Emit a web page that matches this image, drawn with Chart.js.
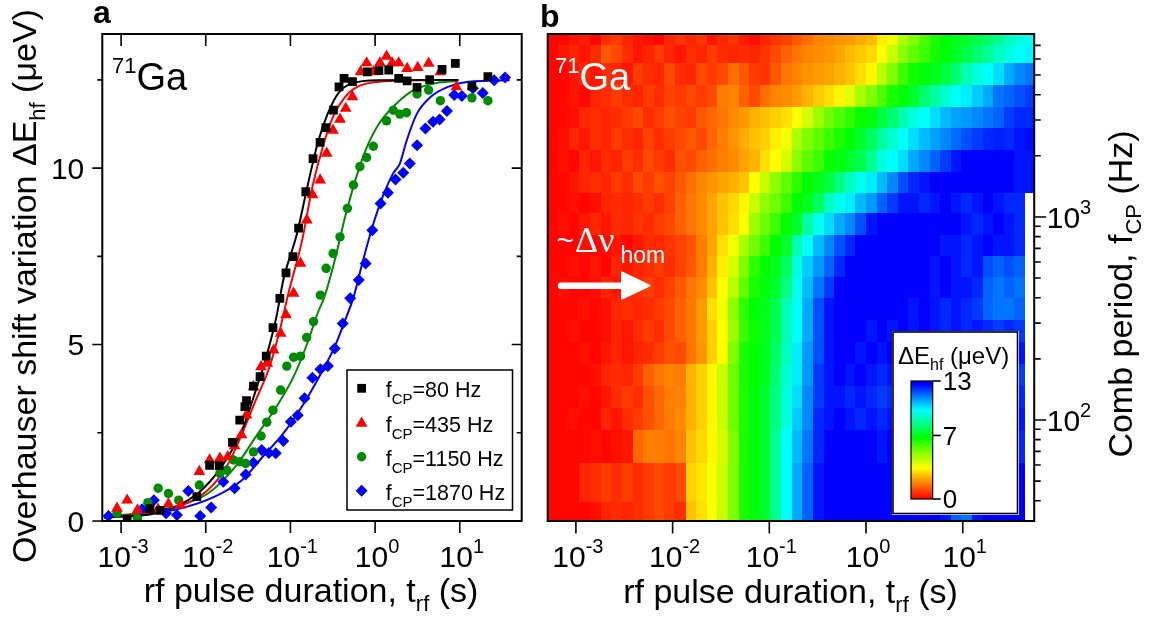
<!DOCTYPE html>
<html lang="en">
<head>
<meta charset="utf-8">
<title>71Ga Overhauser shift vs rf pulse duration</title>
<script src="https://cdn.jsdelivr.net/npm/chart.js@4.4.1/dist/chart.umd.min.js"></script>
<style>
  html, body { margin: 0; padding: 0; background: #fff; }
  #page { position: relative; width: 1151px; height: 622px; overflow: hidden; }
  #page canvas { position: absolute; top: 0; }
</style>
</head>
<body>
<div id="page">
  <canvas id="panelA" width="540" height="622" style="left:0"></canvas>
  <canvas id="panelB" width="611" height="622" style="left:540px"></canvas>
  <canvas id="shiftBar" width="127" height="184" style="left:892px;top:331px"></canvas>
</div>
<script>
// ---------- panel a: measured shift (µeV) vs rf pulse duration (s) ----------
const t80 = [0.00118, 0.0022, 0.0029, 0.00785, 0.0111, 0.0144, 0.0207, 0.0252, 0.029, 0.0303, 0.0366, 0.0438, 0.0518, 0.0622, 0.075, 0.0887, 0.107, 0.125, 0.152, 0.185, 0.224, 0.262, 0.322, 0.375, 0.43, 0.54, 0.81, 1.11, 1.45, 1.9, 2.39, 3.13, 4.41, 6.18, 8.86, 13.9, 21.5];
const dE80 = [0.05, 0.35, 0.3, 0.69, 1.58, 1.57, 2.23, 2.86, 3.24, 3.41, 3.82, 4.09, 4.67, 5.48, 6.31, 7.03, 7.49, 8.3, 9.33, 10.27, 10.73, 11.15, 11.64, 12.3, 12.54, 12.45, 12.73, 12.76, 12.78, 12.54, 12.47, 12.29, 12.51, 12.8, 12.97, 12.32, 12.59];

const t435 = [0.000895, 0.00118, 0.00156, 0.00274, 0.00362, 0.00502, 0.0084, 0.0111, 0.0147, 0.0182, 0.0219, 0.0264, 0.0303, 0.0366, 0.045, 0.0532, 0.0634, 0.0766, 0.0887, 0.109, 0.1315, 0.156, 0.1825, 0.2244, 0.2685, 0.318, 0.385, 0.45, 0.54, 0.675, 0.794, 0.953, 1.14, 1.365, 1.59, 1.9, 2.39, 3.19, 4.29, 5.9, 9.1];
const dE435 = [0.36, 0.59, 0.31, 0.33, 0.48, 0.45, 1.4, 1.73, 1.78, 1.82, 2.13, 2.44, 3.0, 3.8, 4.37, 4.47, 4.84, 5.32, 5.84, 6.45, 7.3, 8.53, 9.24, 9.66, 10.42, 11.07, 11.38, 11.69, 12.02, 12.73, 12.98, 12.73, 12.98, 13.17, 12.98, 12.98, 12.82, 12.85, 12.97, 12.73, 12.3];

const t1150 = [0.000895, 0.00156, 0.00207, 0.00274, 0.00362, 0.00479, 0.0084, 0.0147, 0.0177, 0.0213, 0.0252, 0.0296, 0.0366, 0.045, 0.0526, 0.0622, 0.0766, 0.0906, 0.109, 0.1315, 0.1556, 0.1875, 0.226, 0.264, 0.319, 0.385, 0.471, 0.555, 0.662, 0.794, 0.953, 1.365, 1.637, 1.96, 2.35, 3.13, 4.29, 5.9, 13.9, 21.5];
const dE1150 = [0.22, 0.08, 0.52, 0.93, 0.78, 0.59, 1.02, 1.35, 1.44, 1.73, 1.68, 1.63, 1.96, 2.41, 2.8, 3.14, 3.71, 4.39, 4.64, 4.67, 5.2, 5.65, 6.4, 7.16, 7.58, 8.05, 8.86, 9.52, 10.04, 10.3, 10.62, 11.34, 11.64, 11.53, 11.57, 12.1, 12.21, 11.91, 11.99, 11.91];

const t1870 = [0.00071, 0.00177, 0.00244, 0.0034, 0.00457, 0.00622, 0.0086, 0.0116, 0.0161, 0.0219, 0.0296, 0.0366, 0.0458, 0.0557, 0.0671, 0.0824, 0.101, 0.122, 0.147, 0.182, 0.226, 0.277, 0.334, 0.414, 0.508, 0.641, 0.773, 0.927, 1.16, 1.416, 1.742, 2.15, 2.57, 3.13, 3.93, 4.84, 5.78, 7.06, 8.61, 10.6, 14.3, 18.7, 25.5, 34.3];
const dE1870 = [0.14, 0.33, 0.59, 0.22, 0.17, 0.85, 0.14, 0.38, 1.11, 0.93, 1.32, 1.65, 2.01, 1.93, 1.92, 2.27, 2.81, 3.0, 3.48, 4.06, 4.3, 4.39, 4.89, 5.6, 6.31, 6.83, 7.3, 8.24, 9.0, 9.3, 9.68, 9.87, 10.13, 10.65, 11.12, 11.31, 11.38, 11.62, 12.07, 12.04, 12.26, 12.13, 12.49, 12.57];

// fitted curves
const fitT80 = [0.00063, 0.00262, 0.008, 0.0154, 0.0269, 0.0391, 0.0518, 0.0684, 0.0824, 0.1197, 0.1585, 0.2094, 0.2767, 0.367, 0.532, 1.12, 9.66];
const fitE80 = [0.1, 0.22, 0.78, 1.54, 2.58, 3.71, 4.65, 5.79, 6.83, 8.15, 9.47, 10.7, 11.55, 12.12, 12.4, 12.49, 12.5];
const fitT435 = [0.00063, 0.00346, 0.0106, 0.0185, 0.0269, 0.0391, 0.0568, 0.075, 0.0946, 0.1377, 0.182, 0.241, 0.318, 0.443, 0.641, 1.12, 8.85];
const fitE435 = [0.1, 0.31, 0.88, 1.63, 2.48, 3.43, 4.37, 5.41, 6.45, 7.96, 9.47, 10.6, 11.45, 12.02, 12.32, 12.45, 12.5];
const fitT1150 = [0.00063, 0.00417, 0.0106, 0.0224, 0.0391, 0.0684, 0.109, 0.158, 0.209, 0.252, 0.334, 0.443, 0.585, 0.773, 1.12, 1.79, 2.85, 5.0, 9.6];
const fitE1150 = [0.1, 0.4, 0.78, 1.54, 2.39, 3.24, 4.09, 5.03, 5.88, 6.35, 7.39, 8.62, 9.66, 10.51, 11.27, 11.83, 12.21, 12.4, 12.47];
const fitT1870 = [0.00063, 0.00417, 0.01276, 0.0269, 0.0471, 0.0824, 0.144, 0.2296, 0.334, 0.443, 0.558, 0.705, 0.931, 1.23, 1.633, 1.963, 2.366, 3.133, 4.55, 7.26, 12.7, 38.8];
const fitE1870 = [0.1, 0.31, 0.69, 1.16, 1.82, 2.48, 3.33, 4.18, 4.94, 5.69, 6.35, 7.3, 8.34, 9.19, 9.85, 10.13, 10.79, 11.55, 12.02, 12.3, 12.45, 12.49];

const combLabels = ['80', '435', '1150', '1870'];
const shiftTicks = [0, 2.5, 5, 7.5, 10, 12.5];

// ---------- panel b: shift map over pulse duration and comb frequency ----------
// cell edges: pulse duration (s), left to right; comb frequency (Hz), top to bottom
const pulseEdges = [0.000511, 0.000657, 0.000846, 0.001089, 0.001402, 0.001805, 0.002324, 0.002992, 0.003851, 0.004958, 0.006383, 0.008217, 0.01058, 0.01362, 0.01753, 0.02257, 0.02906, 0.0374, 0.04816, 0.06199, 0.0798, 0.1027, 0.1323, 0.1703, 0.2192, 0.2822, 0.3633, 0.4676, 0.602, 0.775, 0.998, 1.284, 1.654, 2.129, 2.74, 3.528, 4.542, 5.847, 7.527, 9.69, 12.47, 16.06, 20.67, 26.61, 34.26, 44.11, 54.8];
const combEdges = [7960, 6990, 5700, 4440, 3460, 2730, 2130, 1660, 1310, 1043, 813, 641, 505, 398, 310, 242, 189, 147, 115, 89.3, 61.4, 39.5, 31.8];
// µeV per cell, one row per comb band (top row = highest frequency)
const shiftMap = [
  [0.1,0.1,0.3,0.4,0.1,0.6,0.8,0.5,0.3,0.2,0.1,0.5,0.7,0.5,0.7,0.3,0.5,0.7,0.4,0.2,0.5,0.7,0.9,1.2,1.5,1.8,1.9,2.0,2.1,2.3,2.5,3.2,3.6,4.6,5.2,5.8,6.4,6.7,7.0,7.2,7.6,8.0,8.4,9.0,9.4,9.6],
  [0.1,0.3,0.5,0.3,0.6,1.2,1.0,0.6,0.3,0.5,0.8,0.5,0.3,0.6,0.5,0.8,0.6,0.5,0.6,0.5,0.7,1.0,1.3,1.6,1.8,1.9,2.0,2.2,2.5,2.7,2.9,3.4,4.2,5.0,5.6,6.0,6.5,6.8,7.1,7.5,8.0,8.5,9.0,9.4,9.7,9.9],
  [0.1,0.1,0.3,0.5,0.3,0.6,0.5,0.3,0.8,0.6,0.5,1.0,0.6,0.5,1.0,0.8,1.0,1.5,1.2,0.8,0.7,1.2,1.6,1.8,2.0,2.1,2.2,2.4,2.6,3.0,3.3,4.4,5.2,6.0,6.5,6.8,7.0,7.4,8.0,8.8,9.4,9.8,10.2,10.8,11.2,11.4],
  [0.1,0.1,0.3,0.1,0.5,0.6,0.8,0.6,0.5,0.8,0.6,0.9,0.8,1.0,0.8,1.0,1.7,1.8,1.3,1.0,1.5,1.8,1.9,2.1,2.4,2.7,3.0,3.3,3.8,4.6,5.2,5.8,6.4,6.8,7.2,8.0,8.6,9.2,9.7,10.0,10.4,10.8,11.4,11.6,11.8,12.0],
  [0.1,0.1,0.2,0.5,0.6,0.5,0.6,0.8,1.0,0.6,0.8,1.1,0.9,0.8,1.2,1.4,1.6,1.9,2.1,2.4,2.6,2.8,3.0,3.4,4.0,4.8,5.4,5.8,6.2,6.6,6.9,7.4,8.0,8.8,9.4,9.8,10.2,10.6,10.9,11.0,11.2,11.4,11.6,12.0,12.2,12.2],
  [0.1,0.2,0.5,0.3,0.6,0.5,0.8,0.6,0.5,0.9,0.6,0.8,1.0,1.2,1.0,1.4,1.7,2.0,2.3,2.6,2.8,3.2,3.6,4.6,5.2,5.6,6.0,6.4,6.8,7.2,7.8,8.6,9.2,9.8,10.2,10.6,10.9,11.2,11.5,11.8,12.0,12.2,12.3,12.2,12.4,12.5],
  [0.1,0.2,0.1,0.5,0.3,0.6,0.5,0.8,0.6,1.0,0.8,0.6,1.1,1.0,1.3,1.5,1.7,1.9,2.2,2.4,3.0,3.4,4.0,5.0,5.6,6.0,6.6,6.9,7.2,7.6,8.4,9.4,9.8,10.2,10.8,11.2,11.6,12.0,12.4,12.8,12.9,12.8,12.8,12.6,12.4,12.4],
  [0.1,0.1,0.3,0.5,0.6,0.5,0.8,0.6,1.0,0.8,1.1,0.9,1.2,1.5,1.8,2.0,2.2,2.4,2.6,3.4,4.2,5.0,5.6,6.2,6.7,7.0,7.4,8.2,9.0,9.6,10.0,10.6,11.2,11.8,12.2,12.4,12.6,12.8,12.9,12.9,12.9,12.9,12.9,12.6,12.4,12.4],
  [0.1,0.1,0.2,0.1,0.2,0.5,0.6,0.5,0.6,0.8,0.6,0.9,1.3,1.6,1.9,2.2,2.6,2.9,3.3,4.2,5.0,5.4,6.0,6.7,7.0,7.8,9.0,9.6,10.0,10.6,11.0,11.6,12.0,12.4,12.4,12.2,12.4,12.6,12.4,12.2,12.4,12.6,12.4,12.2,12.2,null],
  [0.1,0.2,0.1,0.3,0.5,0.3,0.6,0.5,0.7,0.6,0.8,1.0,1.3,1.6,1.9,2.2,2.6,3.0,3.4,4.8,5.4,6.0,6.7,7.2,8.6,9.6,10.2,10.8,11.2,11.8,12.4,12.8,12.9,12.9,12.9,12.8,12.9,12.8,12.6,12.4,12.2,12.4,12.6,12.4,12.2,null],
  [0.1,0.1,0.1,0.2,0.1,0.2,0.3,0.1,0.3,0.6,0.5,0.7,0.9,1.1,1.7,2.2,3.0,3.6,4.6,5.4,6.0,6.7,7.2,8.8,9.8,10.6,11.2,11.8,12.2,12.6,12.8,12.9,12.8,12.8,12.9,12.8,12.6,12.4,12.4,12.2,12.4,12.6,12.4,12.4,12.2,null],
  [0.1,0.1,0.2,0.1,0.3,0.1,0.5,0.3,0.5,0.6,0.8,0.6,0.9,1.2,1.7,2.4,3.2,4.0,5.2,6.2,6.7,7.0,7.8,9.4,10.4,11.0,11.6,12.2,12.8,12.9,12.9,12.9,12.9,12.9,12.8,12.6,12.4,12.6,12.4,12.2,12.4,11.8,11.6,11.8,11.6,null],
  [0.1,0.2,0.1,0.1,0.2,0.5,0.3,0.5,0.6,0.8,0.6,0.9,1.2,1.6,1.9,2.6,3.4,4.4,5.6,6.4,6.8,7.2,8.2,9.6,10.6,11.4,12.0,12.6,12.9,12.9,12.8,12.9,12.8,12.6,12.8,12.6,12.4,12.6,12.4,12.4,12.2,11.6,11.4,11.6,11.4,null],
  [0.1,0.1,0.1,0.2,0.1,0.2,0.5,0.6,0.5,0.6,0.8,1.0,1.3,1.6,2.1,3.0,3.6,5.0,6.2,6.7,7.0,7.6,8.8,9.8,10.8,11.8,12.4,12.6,12.8,12.9,12.8,12.6,12.8,12.6,12.4,12.6,12.4,12.2,12.4,12.2,12.0,11.6,11.4,11.4,11.6,null],
  [0.1,0.1,0.2,0.1,0.1,0.2,0.5,0.3,0.6,0.8,0.6,1.0,1.3,1.6,2.1,2.8,3.4,4.8,6.0,6.6,7.0,7.6,8.8,9.8,10.8,11.8,12.4,12.8,12.9,12.6,12.4,12.6,12.4,12.6,12.4,12.6,12.4,12.2,12.4,12.2,12.4,12.2,12.0,12.2,12.0,null],
  [0.1,0.1,0.1,0.2,0.1,0.3,0.5,0.3,0.5,0.6,0.8,1.1,1.0,1.6,2.0,2.8,3.4,5.2,6.4,6.7,7.0,7.8,9.0,10.0,11.0,11.8,12.4,12.6,12.6,12.4,12.6,12.4,12.6,12.4,12.2,12.4,12.2,12.4,12.0,12.2,12.4,12.2,12.4,12.2,12.4,null],
  [0.1,0.1,0.1,0.1,0.2,0.5,0.6,0.5,0.8,1.3,1.6,1.8,1.7,2.4,2.8,3.3,4.2,5.4,6.4,6.7,7.0,8.0,9.2,10.0,11.0,12.0,12.4,12.6,12.4,12.6,12.4,12.2,12.4,12.2,12.4,12.2,12.0,12.2,12.4,12.2,12.4,12.2,12.4,12.2,12.0,null],
  [0.1,0.1,0.1,0.2,0.1,0.3,0.6,0.8,0.6,1.1,1.4,1.7,1.8,2.4,2.8,3.3,4.2,5.4,6.4,6.8,7.2,8.2,9.4,10.2,11.2,12.0,12.4,12.4,12.2,12.4,12.2,12.0,12.2,12.4,12.2,12.4,12.2,12.0,12.2,12.4,12.2,12.4,12.2,12.0,12.2,null],
  [0.1,0.1,0.2,0.1,0.1,0.5,0.3,0.6,0.8,1.1,1.4,1.7,1.9,2.4,2.8,3.3,4.2,5.4,6.4,6.8,7.2,8.2,9.4,10.4,11.2,12.2,12.4,12.6,12.4,12.2,12.4,12.2,12.4,12.2,12.4,12.2,12.0,12.2,12.4,12.2,12.0,12.2,12.4,12.2,12.4,null],
  [0.1,0.1,0.1,0.1,0.2,0.1,0.2,0.3,1.4,1.7,1.7,1.6,1.8,2.6,2.9,3.3,4.0,5.2,6.4,6.8,7.2,8.4,9.8,10.6,11.4,12.2,12.6,12.8,12.6,12.8,12.6,12.4,12.6,12.4,12.6,12.4,12.6,12.4,12.2,12.4,12.6,12.4,12.6,12.4,12.2,null],
  [0.1,0.1,0.1,0.5,0.6,0.8,0.6,0.8,0.6,0.8,1.0,0.8,1.0,2.8,3.1,3.4,4.2,5.2,6.4,6.8,7.2,8.4,9.8,10.8,11.6,12.4,12.8,12.8,12.9,12.8,12.6,12.8,12.9,12.8,12.6,12.8,12.6,12.8,12.9,12.8,12.6,12.8,12.6,12.8,12.6,null],
  [0.1,0.1,0.1,0.1,0.2,0.5,0.6,0.5,0.6,0.8,1.0,0.8,0.6,2.6,3.0,3.4,4.2,5.2,6.4,6.8,7.2,8.4,9.8,10.8,11.6,12.4,12.8,12.8,12.9,12.8,12.6,12.8,12.6,12.8,12.6,12.8,12.6,12.4,11.6,11.4,12.4,12.6,12.8,12.6,12.6,null]
];
const barTicks = [0, 7, 13];

// ---------- shared drawing helpers ----------
const SANS = '"Liberation Sans", Arial, Helvetica, sans-serif';
const SERIF = '"Liberation Serif", "Times New Roman", serif';
const font = (size, weight) => (weight ? weight + ' ' : '') + size + 'px ' + SANS;

// rainbow map: red (0) -> yellow -> green -> cyan -> blue (13)
const rainbow = [
  [0, 255, 0, 0], [1.9, 255, 140, 0], [3.4, 255, 255, 0], [5.2, 128, 255, 0],
  [6.7, 0, 255, 0], [8.2, 0, 255, 128], [9.8, 0, 255, 255], [11.3, 0, 128, 255],
  [12.6, 0, 0, 255], [13, 0, 0, 255]
];
function shiftColor(v) {
  v = Math.max(0, Math.min(13, v));
  for (let i = 1; i < rainbow.length; i++) {
    const a = rainbow[i - 1], b = rainbow[i];
    if (v <= b[0]) {
      const k = (v - a[0]) / (b[0] - a[0] || 1);
      return 'rgb(' + [1, 2, 3].map(j => Math.round(a[j] + (b[j] - a[j]) * k)).join(',') + ')';
    }
  }
  return 'rgb(0,0,255)';
}

// text made of runs (sub/superscripts), baseline at y
function drawRuns(ctx, runs, x, y, align) {
  ctx.textAlign = 'left';
  ctx.textBaseline = 'alphabetic';
  let w = 0;
  runs.forEach(r => { ctx.font = r.font; w += ctx.measureText(r.text).width + (r.dx || 0); });
  let cx = align === 'center' ? x - w / 2 : align === 'right' ? x - w : x;
  runs.forEach(r => {
    ctx.font = r.font;
    cx += r.dx || 0;
    ctx.fillText(r.text, cx, y + (r.dy || 0));
    cx += ctx.measureText(r.text).width;
  });
}
const powerRuns = e => [{text: '10', font: font(30)}, {text: String(e), font: font(20), dy: -14}];

function logTickList(min, max) {
  const out = [];
  for (let e = Math.floor(Math.log10(min)); e <= Math.ceil(Math.log10(max)); e++) {
    for (let m = 1; m < 10; m++) {
      const v = m * Math.pow(10, e);
      if (v >= min && v <= max) out.push({value: v, major: m === 1});
    }
  }
  return out;
}
const decade = v => Math.round(Math.log10(v));

function marker(ctx, style, x, y) {
  ctx.fillStyle = style.color;
  if (Chart.helpers && Chart.helpers.drawPoint) {
    Chart.helpers.drawPoint(ctx, {pointStyle: style.pointStyle, radius: style.radius, rotation: 0, borderWidth: 0}, x, y);
  }
}

const baseOptions = {
  responsive: false,
  maintainAspectRatio: false,
  devicePixelRatio: 1,
  animation: false,
  events: [],
  plugins: {legend: {display: false}, tooltip: {enabled: false}}
};

// ---------- panel a ----------
const seriesStyle = [
  {color: '#000000', pointStyle: 'rect', radius: 6.2},
  {color: '#ff0000', pointStyle: 'triangle', radius: 6.8},
  {color: '#008c00', pointStyle: 'circle', radius: 4.7},
  {color: '#0000ff', pointStyle: 'rectRot', radius: 6}
];
const measured = [[t80, dE80], [t435, dE435], [t1150, dE1150], [t1870, dE1870]];
const fitted = [[fitT80, fitE80], [fitT435, fitE435], [fitT1150, fitE1150], [fitT1870, fitE1870]];
const xy = (xs, ys) => xs.map((x, i) => ({x: x, y: ys[i]}));

const pointSets = measured.map(([t, e], i) => ({
  label: 'fCP=' + combLabels[i] + ' Hz',
  data: xy(t, e),
  showLine: false,
  pointStyle: seriesStyle[i].pointStyle,
  pointRadius: seriesStyle[i].radius,
  pointBackgroundColor: seriesStyle[i].color,
  pointBorderWidth: 0
}));
const lineSets = fitted.map(([t, e], i) => ({
  label: 'fit ' + combLabels[i] + ' Hz',
  data: xy(t, e),
  showLine: true,
  pointRadius: 0,
  borderColor: seriesStyle[i].color,
  borderWidth: 2,
  cubicInterpolationMode: 'monotone'
}));

const panelAFrame = {
  id: 'panelAFrame',
  afterDatasetsDraw(chart) {
    const {ctx, chartArea: a, scales: {x, y}} = chart;
    ctx.save();
    ctx.strokeStyle = '#000';
    ctx.lineWidth = 2;
    ctx.strokeRect(a.left, a.top, a.right - a.left, a.bottom - a.top);
    ctx.lineWidth = 1.6;
    ctx.beginPath();
    x.ticks.forEach(t => {
      const px = x.getPixelForValue(t.value), len = t.major ? 12 : 6.5;
      ctx.moveTo(px, a.bottom); ctx.lineTo(px, a.bottom + len);
      ctx.moveTo(px, a.top); ctx.lineTo(px, a.top + len);
    });
    y.ticks.forEach(t => {
      const py = y.getPixelForValue(t.value), len = t.major ? 10 : 5;
      ctx.moveTo(a.left - len, py); ctx.lineTo(a.left, py);
      ctx.moveTo(a.right - len, py); ctx.lineTo(a.right, py);
    });
    ctx.stroke();

    ctx.fillStyle = '#000';
    x.ticks.filter(t => t.major).forEach(t => drawRuns(ctx, powerRuns(decade(t.value)), x.getPixelForValue(t.value) + 2, 567, 'center'));
    y.ticks.filter(t => t.major).forEach(t => drawRuns(ctx, [{text: String(t.value), font: font(30)}], a.left - 18, y.getPixelForValue(t.value) + 10.7, 'right'));

    drawRuns(ctx, [{text: 'rf pulse duration, t', font: font(34)}, {text: 'rf', font: font(22), dy: 9}, {text: ' (s)', font: font(34)}], 311, 602, 'center');
    ctx.save();
    ctx.translate(36, 286);
    ctx.rotate(-Math.PI / 2);
    drawRuns(ctx, [{text: 'Overhauser shift variation \u0394E', font: font(34)}, {text: 'hf', font: font(22), dy: 9}, {text: ' (\u03bceV)', font: font(34)}], 0, 0, 'center');
    ctx.restore();

    drawRuns(ctx, [{text: 'a', font: font(32, 'bold')}], 93, 23, 'left');
    drawRuns(ctx, [{text: '71', font: font(22), dy: -17}, {text: 'Ga', font: font(38)}], 112, 90, 'left');

    // legend box
    ctx.fillStyle = '#fff';
    ctx.fillRect(347, 370, 165.5, 140);
    ctx.lineWidth = 1.5;
    ctx.strokeRect(347, 370, 165.5, 140);
    const rows = [388.3, 423.3, 456.7, 490.7];
    chart.data.datasets.slice(0, 4).forEach((ds, i) => {
      marker(ctx, seriesStyle[i], 361.6, rows[i]);
      ctx.fillStyle = '#000';
      drawRuns(ctx, [{text: 'f', font: font(21.5)}, {text: 'CP', font: font(15), dy: 7}, {text: '=' + combLabels[i] + ' Hz', font: font(21.5)}], 385.7, rows[i] + 9, 'left');
    });
    ctx.restore();
  }
};

new Chart(document.getElementById('panelA'), {
  type: 'scatter',
  data: {datasets: pointSets.concat(lineSets)},
  options: Object.assign({}, baseOptions, {
    layout: {padding: {left: 102.3, top: 34, right: 18.3, bottom: 101}},
    scales: {
      x: {type: 'logarithmic', min: 6.28e-4, max: 53.9, display: false,
          afterBuildTicks: s => { s.ticks = logTickList(s.min, s.max); }},
      y: {type: 'linear', min: 0, max: 13.8, display: false,
          afterBuildTicks: s => { s.ticks = shiftTicks.map(v => ({value: v, major: v % 5 === 0})); }}
    }
  }),
  plugins: [panelAFrame]
});

// ---------- panel b ----------
const heatLayer = {
  id: 'heatLayer',
  beforeDatasetsDraw(chart) {
    const {ctx, scales: {x, y}} = chart;
    ctx.save();
    shiftMap.forEach((row, r) => {
      const y0 = Math.round(y.getPixelForValue(combEdges[r]));
      const y1 = Math.round(y.getPixelForValue(combEdges[r + 1]));
      row.forEach((v, c) => {
        if (v === null) return;
        const x0 = Math.round(x.getPixelForValue(pulseEdges[c]));
        const x1 = Math.round(x.getPixelForValue(pulseEdges[c + 1]));
        ctx.fillStyle = shiftColor(v);
        ctx.fillRect(x0, y0, x1 - x0, y1 - y0);
      });
    });
    ctx.restore();
  },
  afterDraw(chart) {
    const {ctx, chartArea: a, scales: {x, y}} = chart;
    ctx.save();
    ctx.strokeStyle = '#000';
    ctx.lineWidth = 2;
    ctx.strokeRect(a.left, a.top, a.right - a.left, a.bottom - a.top);
    ctx.lineWidth = 1.6;
    ctx.beginPath();
    x.ticks.forEach(t => {
      const px = x.getPixelForValue(t.value), len = t.major ? 12.5 : 7;
      ctx.moveTo(px, a.bottom); ctx.lineTo(px, a.bottom + len);
    });
    y.ticks.forEach(t => {
      const py = y.getPixelForValue(t.value), len = t.major ? 12 : 6.5;
      ctx.moveTo(a.right, py); ctx.lineTo(a.right + len, py);
    });
    ctx.stroke();

    ctx.fillStyle = '#000';
    x.ticks.filter(t => t.major).forEach(t => drawRuns(ctx, powerRuns(decade(t.value)), x.getPixelForValue(t.value) + 2, 567, 'center'));
    y.ticks.filter(t => t.major).forEach(t => drawRuns(ctx, powerRuns(decade(t.value)), a.right + 12.5, y.getPixelForValue(t.value) + 10.7, 'left'));

    drawRuns(ctx, [{text: 'rf pulse duration, t', font: font(34)}, {text: 'rf', font: font(22), dy: 9}, {text: ' (s)', font: font(34)}], 250.5, 603, 'center');
    ctx.save();
    ctx.translate(592, 294);
    ctx.rotate(-Math.PI / 2);
    drawRuns(ctx, [{text: 'Comb period, f', font: font(34)}, {text: 'CP', font: font(22), dy: 9}, {text: ' (Hz)', font: font(34)}], 0, 0, 'center');
    ctx.restore();

    drawRuns(ctx, [{text: 'b', font: font(32, 'bold')}], 0, 27, 'left');

    // white annotations on the map
    ctx.fillStyle = '#fff';
    drawRuns(ctx, [{text: '71', font: font(22), dy: -17}, {text: 'Ga', font: font(38)}], 15, 90, 'left');
    drawRuns(ctx, [{text: '~', font: font(30), dy: -2}, {text: '\u0394\u03bd', font: '36px ' + SERIF, dx: 1}, {text: 'hom', font: font(23), dy: 11.6, dx: 6}], 16.5, 251.7, 'left');
    ctx.strokeStyle = '#fff';
    ctx.lineCap = 'round';
    ctx.lineJoin = 'round';
    ctx.lineWidth = 6.5;
    ctx.beginPath();
    ctx.moveTo(21, 285.7); ctx.lineTo(86, 285.7);
    ctx.stroke();
    ctx.lineWidth = 2;
    ctx.beginPath();
    ctx.moveTo(82, 272.5); ctx.lineTo(109.5, 285.7); ctx.lineTo(82, 298.5); ctx.closePath();
    ctx.fill(); ctx.stroke();
    ctx.restore();
  }
};

new Chart(document.getElementById('panelB'), {
  type: 'scatter',
  data: {datasets: []},
  options: Object.assign({}, baseOptions, {
    layout: {padding: {left: 7.7, top: 34, right: 116.8, bottom: 101}},
    scales: {
      x: {type: 'logarithmic', min: pulseEdges[0], max: pulseEdges[pulseEdges.length - 1], display: false,
          afterBuildTicks: s => { s.ticks = logTickList(s.min, s.max); }},
      y: {type: 'logarithmic', min: combEdges[combEdges.length - 1], max: combEdges[0], display: false,
          afterBuildTicks: s => { s.ticks = logTickList(s.min, s.max); }}
    }
  }),
  plugins: [heatLayer]
});

// ---------- colour scale for panel b ----------
const barLayer = {
  id: 'barLayer',
  beforeDraw(chart) {
    const {ctx, width, height} = chart;
    ctx.save();
    ctx.fillStyle = '#fff';
    ctx.fillRect(0, 0, width, height);
    ctx.strokeStyle = '#000';
    ctx.lineWidth = 1.6;
    ctx.strokeRect(1, 1, width - 2.5, height - 2.5);
    ctx.restore();
  },
  afterDraw(chart) {
    const {ctx, chartArea: a, scales: {y}} = chart;
    ctx.save();
    const g = ctx.createLinearGradient(0, y.getPixelForValue(0), 0, y.getPixelForValue(13));
    rainbow.forEach(s => g.addColorStop(s[0] / 13, shiftColor(s[0])));
    ctx.fillStyle = g;
    ctx.fillRect(a.left, a.top, a.right - a.left, a.bottom - a.top);
    ctx.strokeStyle = '#000';
    ctx.lineWidth = 1.2;
    ctx.strokeRect(a.left, a.top, a.right - a.left, a.bottom - a.top);
    ctx.lineWidth = 1.6;
    ctx.fillStyle = '#000';
    barTicks.forEach(v => {
      const py = y.getPixelForValue(v);
      ctx.beginPath();
      ctx.moveTo(a.right, py); ctx.lineTo(a.right + 8, py);
      ctx.stroke();
      drawRuns(ctx, [{text: String(v), font: font(26)}], a.right + 10, py + 9.3, 'left');
    });
    drawRuns(ctx, [{text: '\u0394E', font: font(24)}, {text: 'hf', font: font(16), dy: 6}, {text: ' (\u03bceV)', font: font(24)}], 6, 33, 'left');
    ctx.restore();
  }
};

new Chart(document.getElementById('shiftBar'), {
  type: 'scatter',
  data: {datasets: []},
  options: Object.assign({}, baseOptions, {
    layout: {padding: {left: 19, top: 50, right: 86.3, bottom: 16}},
    scales: {
      x: {type: 'linear', min: 0, max: 1, display: false},
      y: {type: 'linear', min: 0, max: 13, display: false}
    }
  }),
  plugins: [barLayer]
});
</script>
</body>
</html>
